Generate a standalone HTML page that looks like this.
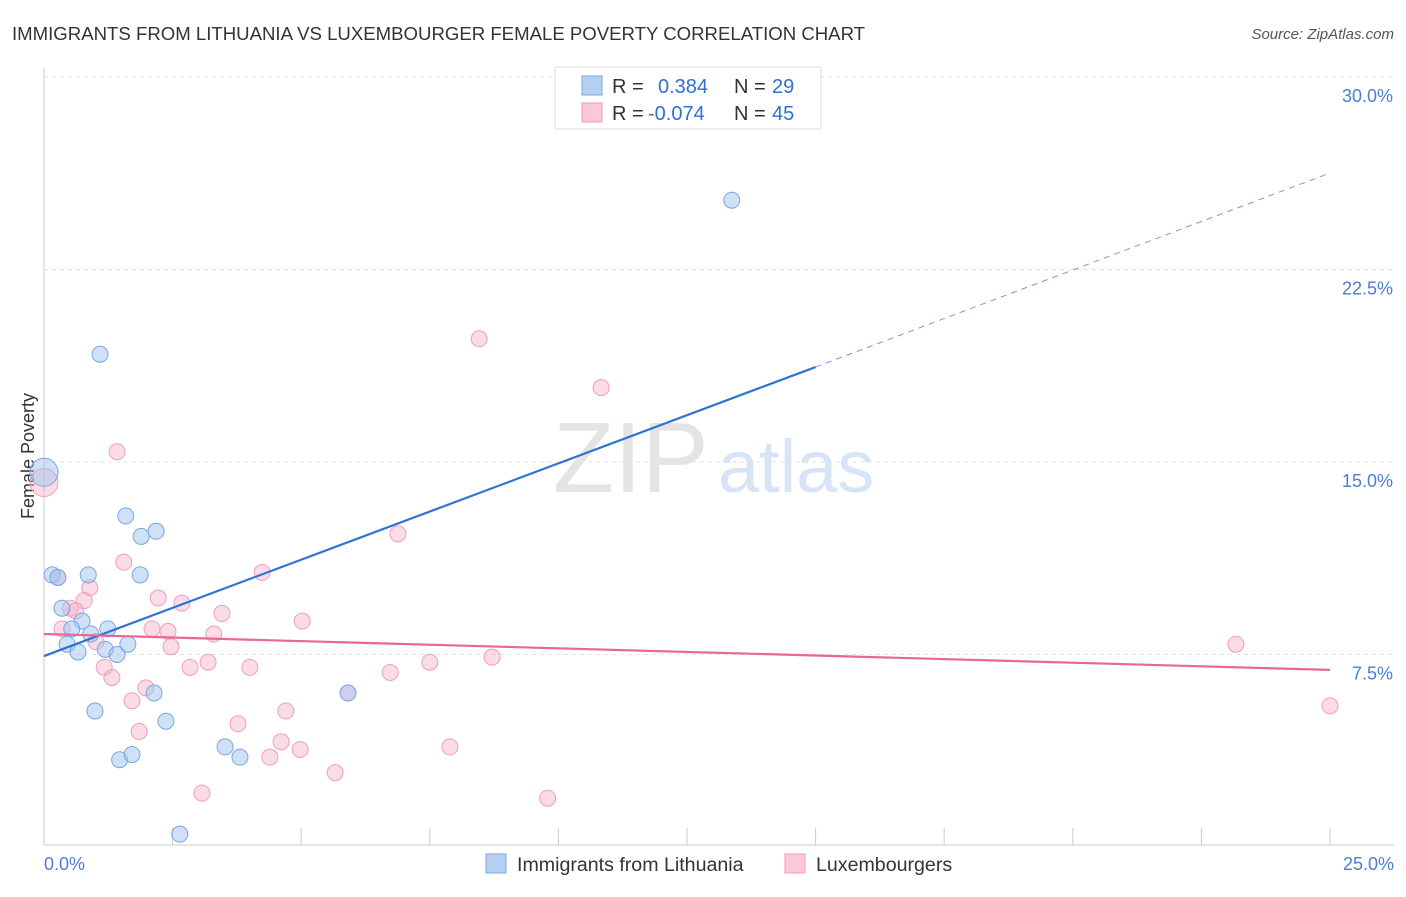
<!DOCTYPE html>
<html><head><meta charset="utf-8">
<style>
body{margin:0;background:#fff;font-family:"Liberation Sans",sans-serif;}
svg text{font-family:"Liberation Sans",sans-serif;}
</style></head>
<body>
<svg id="chart" width="1406" height="892" xmlns="http://www.w3.org/2000/svg">
<text x="12" y="40" font-size="18.6" fill="#333">IMMIGRANTS FROM LITHUANIA VS LUXEMBOURGER FEMALE POVERTY CORRELATION CHART</text>
<text x="1394" y="39" font-size="15" fill="#555" font-style="italic" text-anchor="end">Source: ZipAtlas.com</text>
<g id="grid"></g>
<g>
<text x="553" y="492" font-size="100" fill="#e4e4e4" font-family="Liberation Serif">ZIP</text>
<text x="718" y="492" font-size="74" fill="#d6e4f5">atlas</text>
</g>
<line x1="44" y1="68" x2="44" y2="845" stroke="#ccc" stroke-width="1"/>
<line x1="44" y1="845" x2="1394" y2="845" stroke="#ccc" stroke-width="1"/>
<g id="xticks"></g>
<g id="ylabels"></g>
<text x="44" y="870" font-size="18" fill="#4a7fd4">0.0%</text>
<text x="1394" y="870" font-size="18" fill="#4a7fd4" text-anchor="end">25.0%</text>
<text transform="translate(34,456) rotate(-90)" font-size="18" fill="#333" text-anchor="middle">Female Poverty</text>
<g id="pinkPts"></g>
<g id="bluePts"></g>
<g id="trends"></g>
<g>
<rect x="555" y="67" width="266" height="62" fill="#fff" stroke="#ddd"/>
<rect x="582" y="76" width="20" height="19" fill="#b5d0f3" stroke="#7aa6e0"/>
<rect x="582" y="103" width="20" height="19" fill="#fcc8d8" stroke="#ee9cb7"/>
<text x="612" y="93" font-size="20" fill="#333">R =</text>
<text x="658" y="93" font-size="20" fill="#2f6fd6">0.384</text>
<text x="734" y="93" font-size="20" fill="#333">N =</text>
<text x="772" y="93" font-size="20" fill="#2f6fd6">29</text>
<text x="612" y="120" font-size="20" fill="#333">R =</text>
<text x="648" y="120" font-size="20" fill="#2f6fd6">-0.074</text>
<text x="734" y="120" font-size="20" fill="#333">N =</text>
<text x="772" y="120" font-size="20" fill="#2f6fd6">45</text>
</g>
<g>
<rect x="486" y="854" width="20" height="19" fill="#b5d0f3" stroke="#7aa6e0"/>
<text x="517" y="871" font-size="19.6" fill="#333">Immigrants from Lithuania</text>
<rect x="785" y="854" width="20" height="19" fill="#fcc8d8" stroke="#ee9cb7"/>
<text x="816" y="871" font-size="19.6" fill="#333">Luxembourgers</text>
</g>
</svg>
<script>
const yTicks = [7.5, 15, 22.5, 30];
const yTickLabels = ["7.5%", "15.0%", "22.5%", "30.0%"];
const xTicks = [0, 2.5, 5, 7.5, 10, 12.5, 15, 17.5, 20, 22.5, 25];
const blueX = [0, 13.37, 1.09, 1.59, 1.89, 2.18, 0.16, 0.27, 0.86, 1.87, 0.35, 0.74, 0.54, 1.24, 0.91, 0.45, 0.66, 1.19, 1.42, 1.63, 2.14, 5.91, 0.99, 2.37, 3.52, 3.81, 1.47, 1.71, 2.64];
const blueY = [14.6, 25.2, 19.2, 12.9, 12.1, 12.3, 10.6, 10.5, 10.6, 10.6, 9.3, 8.8, 8.5, 8.5, 8.3, 7.9, 7.6, 7.7, 7.5, 7.9, 6.0, 6.0, 5.3, 4.9, 3.9, 3.5, 3.4, 3.6, 0.5];
const blueR = [14, 8, 8, 8, 8, 8, 8, 8, 8, 8, 8, 8, 8, 8, 8, 8, 8, 8, 8, 8, 8, 8, 8, 8, 8, 8, 8, 8, 8];
const pinkX = [0, 8.46, 10.83, 1.42, 6.88, 1.55, 4.24, 0.27, 0.89, 0.78, 2.22, 2.68, 0.51, 0.62, 3.46, 5.02, 0.35, 2.10, 2.41, 3.30, 1.01, 2.47, 23.17, 8.71, 3.19, 7.50, 1.17, 2.84, 4.00, 1.32, 6.73, 1.98, 5.91, 1.71, 25.0, 4.70, 3.77, 1.85, 4.61, 4.98, 7.89, 4.39, 5.66, 3.07, 9.79];
const pinkY = [14.2, 19.8, 17.9, 15.4, 12.2, 11.1, 10.7, 10.5, 10.1, 9.6, 9.7, 9.5, 9.3, 9.2, 9.1, 8.8, 8.5, 8.5, 8.4, 8.3, 8.0, 7.8, 7.9, 7.4, 7.2, 7.2, 7.0, 7.0, 7.0, 6.6, 6.8, 6.2, 6.0, 5.7, 5.5, 5.3, 4.8, 4.5, 4.1, 3.8, 3.9, 3.5, 2.9, 2.1, 1.9];
const blueTrendX = [0, 15, 25];
const blueTrendY = [7.44, 18.7, 26.26];
const pinkTrendX = [0, 25];
const pinkTrendY = [8.3, 6.9];

const NS = "http://www.w3.org/2000/svg";
const xs = v => 44 + v * (1286 / 25);
const ys = v => 847 - v * (192.5 / 7.5);
function mk(tag, attrs, parent) {
  const e = document.createElementNS(NS, tag);
  for (const k in attrs) e.setAttribute(k, attrs[k]);
  document.getElementById(parent).appendChild(e);
  return e;
}
yTicks.forEach((t, i) => {
  const g = mk("line", {x1: 44, x2: 1394, y1: ys(t), y2: ys(t), stroke: "#e3e3e3", "stroke-dasharray": "4,4"}, "grid");
  
  
  const l = mk("text", {x: 1393, y: ys(t) + 25, "font-size": 18, fill: "#4a7fd4", "text-anchor": "end"}, "ylabels");
  l.textContent = yTickLabels[i];
  
  
});
xTicks.forEach(t => {
  const e = mk("line", {x1: xs(t), x2: xs(t), y1: 828, y2: 845, stroke: "#ccc"}, "xticks");
  
  
});
pinkX.forEach((v, i) => {
  const c = mk("circle", {cx: xs(v), cy: ys(pinkY[i]), r: i === 0 ? 14 : 8, fill: "rgba(245,175,200,0.45)", stroke: "#eea0ba", "stroke-width": 1}, "pinkPts");
  
  
});
blueX.forEach((v, i) => {
  const c = mk("circle", {cx: xs(v), cy: ys(blueY[i]), r: blueR[i], fill: "rgba(160,195,240,0.5)", stroke: "#7aa6e0", "stroke-width": 1}, "bluePts");
  
  
});
let t1 = mk("line", {x1: xs(blueTrendX[0]), y1: ys(blueTrendY[0]), x2: xs(blueTrendX[1]), y2: ys(blueTrendY[1]), stroke: "#2f72d8", "stroke-width": 2.2}, "trends");


let t2 = mk("line", {x1: xs(blueTrendX[1]), y1: ys(blueTrendY[1]), x2: xs(blueTrendX[2]), y2: ys(blueTrendY[2]), stroke: "#6f9ce0", "stroke-width": 1, "stroke-dasharray": "6,5"}, "trends");


let t3 = mk("line", {x1: xs(pinkTrendX[0]), y1: ys(pinkTrendY[0]), x2: xs(pinkTrendX[1]), y2: ys(pinkTrendY[1]), stroke: "#e8679a", "stroke-width": 2.2}, "trends");


</script>
</body></html>
